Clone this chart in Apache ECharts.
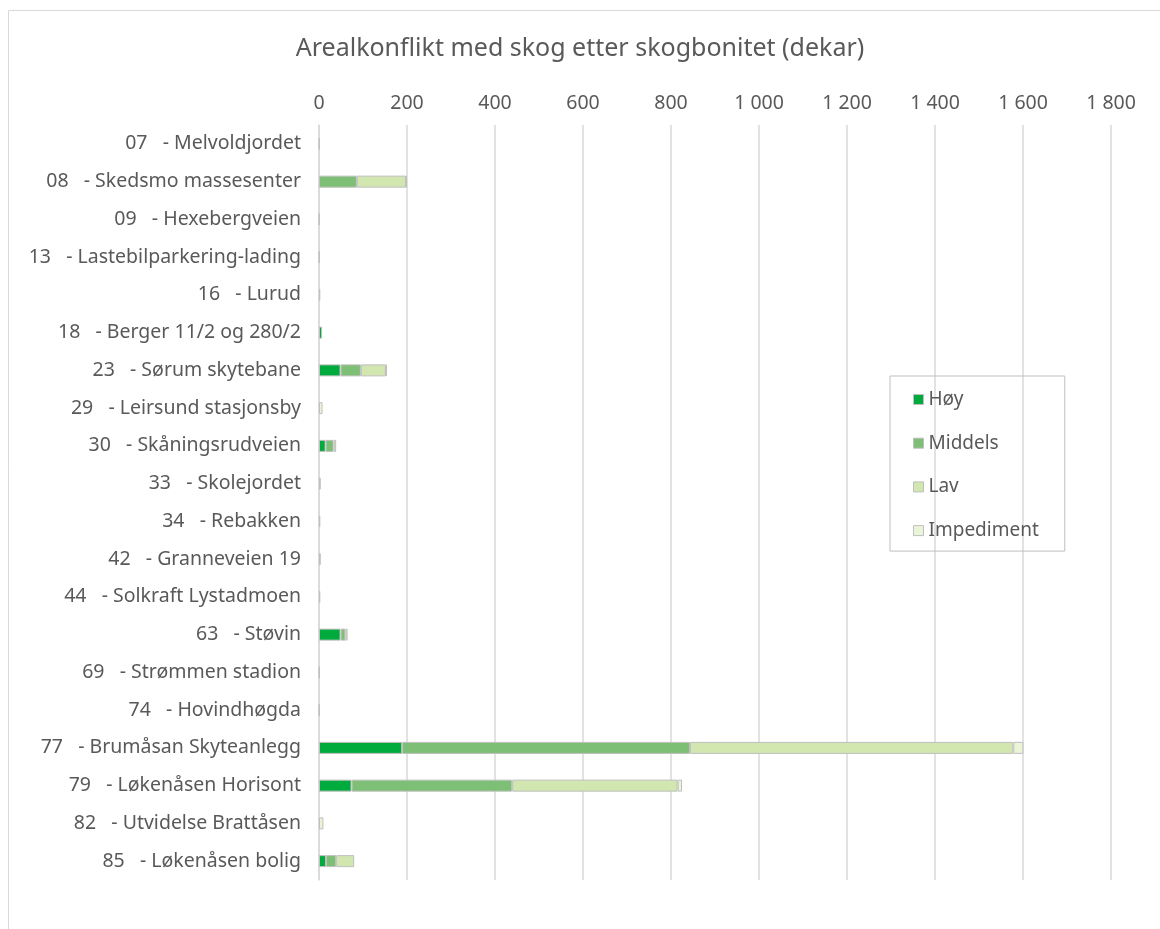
<!DOCTYPE html>
<html>
<head>
<meta charset="utf-8">
<script src="https://cdn.jsdelivr.net/npm/echarts@6/dist/echarts.min.js"></script>
<style>
html,body{margin:0;padding:0;background:#fff;}
#chart{width:1160px;height:929px;}
</style>
</head>
<body>
<div id="chart"></div>
<script>
const title = 'Arealkonflikt med skog etter skogbonitet (dekar)';
const categories = [
  '07   - Melvoldjordet',
  '08   - Skedsmo massesenter',
  '09   - Hexebergveien',
  '13   - Lastebilparkering-lading',
  '16   - Lurud',
  '18   - Berger 11/2 og 280/2',
  '23   - Sørum skytebane',
  '29   - Leirsund stasjonsby',
  '30   - Skåningsrudveien',
  '33   - Skolejordet',
  '34   - Rebakken',
  '42   - Granneveien 19',
  '44   - Solkraft Lystadmoen',
  '63   - Støvin',
  '69   - Strømmen stadion',
  '74   - Hovindhøgda',
  '77   - Brumåsan Skyteanlegg',
  '79   - Løkenåsen Horisont',
  '82   - Utvidelse Brattåsen',
  '85   - Løkenåsen bolig'
];
const seriesNames = ['Høy', 'Middels', 'Lav', 'Impediment'];
const hoy     = [0, 0, 0, 0, 0, 7, 49, 0, 15, 0, 0, 0, 0, 49, 0, 0, 189, 74, 0, 16];
const middels = [0, 86, 0, 0, 0, 0, 46, 0, 18, 0, 0, 0, 0, 11, 0, 0, 654, 365, 0, 23];
const lav     = [1, 112, 1, 1, 3, 0, 57, 0, 6, 4, 3, 4, 3, 5, 1, 1, 735, 376, 0, 41];
const impediment = [0, 1, 0, 0, 0, 0, 2, 8, 0, 0, 0, 0, 0, 0, 0, 0, 23, 10, 10, 0];
const colors = ['#00ab3d', '#7dbf74', '#d2e7b0', '#eaf4d6'];

const fontFamily = 'Noto Sans';
const textColor = '#595959';

function fmt(v) {
  return String(v).replace(/\B(?=(\d{3})+(?!\d))/g, ' ');
}

const seriesData = [hoy, middels, lav, impediment];
const chart = echarts.init(document.getElementById('chart'));
chart.setOption({
  animation: false,
  textStyle: { fontFamily: fontFamily },
  title: {
    text: title,
    left: 'center',
    top: 31,
    textStyle: { fontFamily: fontFamily, fontSize: 25, fontWeight: 'normal', color: textColor }
  },
  graphic: [{
    type: 'rect',
    shape: { x: 8.5, y: 10.5, width: 1170, height: 940 },
    style: { fill: 'none', stroke: '#d9d9d9', lineWidth: 1 },
    silent: true
  }],
  legend: {
    orient: 'vertical',
    left: 890,
    top: 376,
    padding: [14, 26, 11, 23],
    itemWidth: 10,
    itemHeight: 10,
    itemGap: 24.7,
    borderColor: '#bfbfbf',
    borderWidth: 1,
    icon: 'rect',
    itemStyle: { borderColor: '#bfbfbf', borderWidth: 1 },
    textStyle: { fontFamily: fontFamily, fontSize: 19, color: textColor },
    data: seriesNames
  },
  grid: { left: 319, right: 49, top: 125, bottom: 49, containLabel: false },
  xAxis: {
    type: 'value',
    position: 'top',
    min: 0,
    max: 1800,
    interval: 200,
    axisLine: { show: false },
    axisTick: { show: false },
    axisLabel: { color: textColor, fontSize: 19.5, fontFamily: fontFamily, margin: 12, formatter: fmt },
    splitLine: { show: true, lineStyle: { color: '#d9d9d9', width: 1.5 } }
  },
  yAxis: {
    type: 'category',
    inverse: true,
    data: categories,
    axisLine: { show: true, lineStyle: { color: '#d9d9d9', width: 1.5 } },
    axisTick: { show: false },
    axisLabel: { color: textColor, fontSize: 19.5, fontFamily: fontFamily, margin: 18 }
  },
  series: seriesNames.map((name, i) => ({
    name: name,
    type: 'bar',
    stack: 'total',
    barWidth: 12,
    itemStyle: { color: colors[i], borderColor: '#bfbfbf', borderWidth: 1 },
    data: seriesData[i].map(v => (v === 0 ? '-' : v))
  }))
});
</script>
</body>
</html>
